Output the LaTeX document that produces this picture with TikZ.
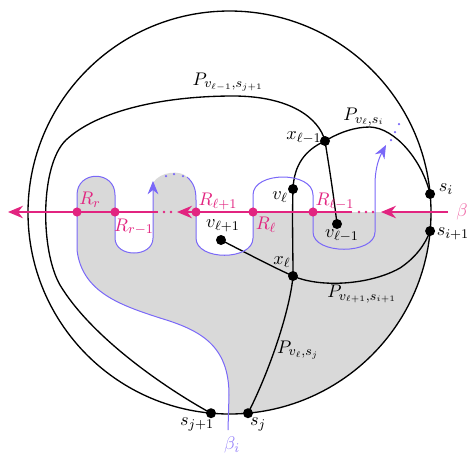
\documentclass[tikz,border=0pt]{standalone}
\usetikzlibrary{arrows.meta}
\definecolor{pk}{RGB}{226,36,128}
\definecolor{pklight}{RGB}{240,110,170}
\definecolor{bl}{RGB}{122,104,248}
\definecolor{bllight}{RGB}{150,130,250}
\begin{document}
\begin{tikzpicture}[x=0.6pt,y=-0.6pt,
  font=\fontsize{11}{13}\selectfont,
  blk/.style={line width=0.8pt},
  bdot/.style={circle,fill=black,inner sep=0pt,minimum size=6pt},
  pdot/.style={circle,fill=pk,inner sep=0pt,minimum size=5.5pt},
  pline/.style={pk,line width=0.8pt},
  bline/.style={bl,line width=0.6pt},
  ptip/.style={-{Stealth[length=9pt,width=7.5pt]}},
  btip/.style={-{Stealth[length=8pt,width=6.5pt]}},
  lab/.style={inner sep=1pt},
  plab/.style={inner sep=1pt,text=pk}]
\useasboundingbox (0,0) rectangle (469,454);
\coordinate (C) at (229.5,212.5);
% gray region
\begin{scope}
\clip (C) circle[radius=120.9pt];
\fill[black!15] (228,470) -- (228,430) -- (229,395) .. controls (229,345) and (200,330) .. (160,318) .. controls (120,305) and (82,292) .. (77,250) -- (77,195) .. controls (77,170) and (115,170) .. (115,195) -- (115,238) .. controls (115,258) and (153,258) .. (153,238) -- (153,183) .. controls (160,171) and (181,170) .. (187,177) .. controls (194,183) and (196,190) .. (196,200) -- (196,238) .. controls (196,261) and (253,261) .. (253,238) -- (253,212) -- (480,212) -- (480,470) -- cycle;
\end{scope}
% circle
\draw[blk] (C) circle[radius=120.9pt];
% vertices
\coordinate (si) at (430.1,194);
\coordinate (sip1) at (430.1,231);
\coordinate (sj) at (248,413.2);
\coordinate (sjp1) at (211,413.2);
\coordinate (xlm1) at (325,141);
\coordinate (vl) at (293,189);
\coordinate (vlm1) at (337,224);
\coordinate (vlp1) at (221,240);
\coordinate (xl) at (293,276);
% black paths
\draw[blk] (vlm1) .. controls (333,190) and (328,160) .. (xlm1) .. controls (319,118) and (290,96) .. (233,96) .. controls (165,96) and (98,110) .. (66,140) .. controls (40,165) and (40,250) .. (60,285) .. controls (90,335) and (160,385) .. (sjp1);
\draw[blk] (vl) .. controls (294,165) and (305,150) .. (xlm1) .. controls (340,132) and (355,127) .. (370,127) .. controls (395,128) and (422,160) .. (si);
\draw[blk] (vl) .. controls (292,220) and (293,250) .. (xl) .. controls (290,310) and (270,370) .. (sj);
\draw[blk] (vlp1) .. controls (250,255) and (275,268) .. (xl) .. controls (320,288) and (370,285) .. (400,268) .. controls (415,258) and (425,245) .. (sip1);
% blue curve
\draw[bline,btip] (228,430) -- (229,395) .. controls (229,345) and (200,330) .. (160,318) .. controls (120,305) and (82,292) .. (77,250) -- (77,195) .. controls (77,170) and (115,170) .. (115,195) -- (115,238) .. controls (115,258) and (153,258) .. (153,238) -- (153,181);
\draw[bline,btip] (187,177) .. controls (194,183) and (196,190) .. (196,200) -- (196,238) .. controls (196,261) and (253,261) .. (253,238) -- (253,195) .. controls (253,171) and (313,171) .. (313,195) -- (313,232) .. controls (313,255) and (375,255) .. (375,232) -- (375,185) .. controls (375,168) and (379,158) .. (386,145);
\foreach \p in {(166,176),(174,174),(183,176),(391,140),(395,132),(399,124)}
  \fill[bl] \p circle[radius=0.75pt];
% pink line
\coordinate (bR) at (448,212);
\coordinate (bL) at (8,212);
\draw[pline,ptip] (bR) -- (381,212);
\foreach \x in {359,366,373} \fill[pk] (\x,212) circle[radius=0.8pt];
\draw[pline,ptip] (352,212) -- (177,212);
\foreach \x in {164,171} \fill[pk] (\x,212) circle[radius=0.8pt];
\draw[pline,ptip] (158,212) -- (bL);
% pink dots
\node[pdot] (Rr) at (77,212) {};
\node[pdot] (Rrm1) at (115,212) {};
\node[pdot] (Rlp1) at (196,212) {};
\node[pdot] (Rl) at (253,212) {};
\node[pdot] (Rlm1) at (313,212) {};
% black dots
\foreach \n in {si,sip1,sj,sjp1,xlm1,vl,vlm1,vlp1,xl}
  \node[bdot] (d\n) at (\n) {};
% labels
\node[lab] (lP1) at (228,82) {$P_{v_{\ell-1},s_{j+1}}$};
\node[lab] (lP2) at (364,117) {$P_{v_\ell,s_i}$};
\node[lab] (lP3) at (362,294) {$P_{v_{\ell+1},s_{i+1}}$};
\node[lab] (lP4) at (298,350) {$P_{v_\ell,s_j}$};
\node[lab] (lxlm1) at (304,138) {$x_{\ell-1}$};
\node[lab] (lvl) at (280,197) {$v_\ell$};
\node[lab] (lvlm1) at (342,236) {$v_{\ell-1}$};
\node[lab] (lvlp1) at (223,226) {$v_{\ell+1}$};
\node[lab] (lxl) at (282,262) {$x_\ell$};
\node[lab] (lsi) at (446,189) {$s_i$};
\node[lab] (lsip1) at (453,234) {$s_{i+1}$};
\node[lab] (lsj) at (258,424) {$s_j$};
\node[lab] (lsjp1) at (197,424) {$s_{j+1}$};
\node[plab] (lRr) at (90,200) {$R_r$};
\node[plab] (lRrm1) at (134,227) {$R_{r-1}$};
\node[plab] (lRlp1) at (218,201) {$R_{\ell+1}$};
\node[plab] (lRl) at (266,225) {$R_\ell$};
\node[plab] (lRlm1) at (335,201) {$R_{\ell-1}$};
\node[lab,text=pklight] (lbeta) at (462,212) {$\beta$};
\node[lab,text=bllight] (lbetai) at (232,445) {$\beta_i$};
\end{tikzpicture}
\end{document}
